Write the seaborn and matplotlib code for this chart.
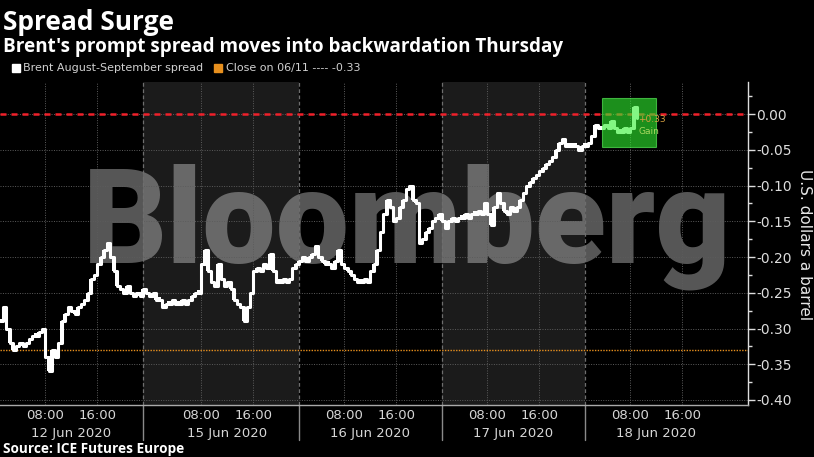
"""
Brent prompt spread, Bloomberg-style intraday chart
"""
import matplotlib
matplotlib.use('Agg')
import matplotlib.pyplot as plt
import matplotlib.transforms as mtransforms
from matplotlib.patches import Rectangle
import seaborn as sns
import numpy as np
import pandas as pd

sns.set_style('dark', {'axes.facecolor': 'black', 'figure.facecolor': 'black'})
plt.rcParams['font.family'] = ['DejaVu Sans']

# ============================================ #
# DATA: half-hourly closes, USD/bbl
# ============================================ #
day_labels = ['12 Jun 2020', '15 Jun 2020', '16 Jun 2020', '17 Jun 2020', '18 Jun 2020']
session_hours = [22, 24, 22, 22, 22]   # ICE session length (15 Jun opens Sunday 23:00)
open_clock = [1, -1, 1, 1, 1]          # clock hour of session open

spread_12jun = [-0.29, -0.27, -0.30, -0.32, -0.33, -0.325, -0.32, -0.325, -0.32, -0.315,
                -0.31, -0.31, -0.305, -0.30, -0.34, -0.36, -0.33, -0.34, -0.32, -0.29,
                -0.28, -0.27, -0.275, -0.28, -0.27, -0.265, -0.26, -0.25, -0.23, -0.225,
                -0.21, -0.20, -0.19, -0.18, -0.20, -0.22, -0.24, -0.245, -0.25, -0.24,
                -0.25, -0.255, -0.25, -0.255]
spread_15jun = [-0.245, -0.25, -0.255, -0.25, -0.26, -0.26, -0.27, -0.265, -0.265, -0.26,
                -0.265, -0.265, -0.26, -0.265, -0.26, -0.255, -0.25, -0.25, -0.21, -0.19,
                -0.22, -0.235, -0.24, -0.21, -0.23, -0.24, -0.235, -0.245, -0.26, -0.265,
                -0.27, -0.29, -0.27, -0.25, -0.22, -0.215, -0.22, -0.21, -0.215, -0.195,
                -0.22, -0.235, -0.235, -0.23, -0.235, -0.23, -0.215, -0.21]
spread_16jun = [-0.205, -0.20, -0.205, -0.20, -0.195, -0.185, -0.20, -0.205, -0.21, -0.21,
                -0.215, -0.205, -0.19, -0.21, -0.215, -0.22, -0.225, -0.23, -0.235, -0.235,
                -0.23, -0.235, -0.22, -0.21, -0.19, -0.165, -0.14, -0.12, -0.13, -0.15,
                -0.145, -0.13, -0.12, -0.105, -0.10, -0.12, -0.125, -0.18, -0.175, -0.165,
                -0.16, -0.15, -0.145, -0.14]
spread_17jun = [-0.15, -0.16, -0.15, -0.145, -0.15, -0.145, -0.145, -0.14, -0.145, -0.14,
                -0.14, -0.135, -0.14, -0.125, -0.14, -0.155, -0.13, -0.11, -0.125, -0.135,
                -0.14, -0.13, -0.135, -0.13, -0.12, -0.11, -0.10, -0.095, -0.09, -0.085,
                -0.08, -0.075, -0.07, -0.065, -0.06, -0.05, -0.04, -0.035, -0.045, -0.045,
                -0.045, -0.045, -0.05, -0.045]
spread_18jun = [-0.045, -0.04, -0.03, -0.015, -0.02, -0.02, -0.015, -0.02, -0.01, -0.02,
                -0.025, -0.025, -0.02, -0.025, -0.02, 0.01, -0.005]
day_series = [spread_12jun, spread_15jun, spread_16jun, spread_17jun, spread_18jun]

prev_close = -0.33          # close on 06/11
gain_label = '+0.33'
ytick_vals = [0.00, -0.05, -0.10, -0.15, -0.20, -0.25, -0.30, -0.35, -0.40]

# build a trading-time table (hours since 12 Jun 01:00, gaps removed)
frames, starts = [], []
t0 = 0.0
for lab, vals, hrs in zip(day_labels, day_series, session_hours):
    starts.append(t0)
    frames.append(pd.DataFrame({'t': t0 + 0.5 * np.arange(len(vals)),
                                'spread': vals, 'day': lab}))
    t0 += hrs
df = pd.concat(frames, ignore_index=True)
df['open'] = df['spread'].shift(1).fillna(df['spread'].iloc[0])
df['lo'] = df[['open', 'spread']].min(axis=1)
df['body'] = (df['spread'] - df['open']).abs().clip(lower=0.004)

# ============================================ #
# FIGURE
# ============================================ #
W, H = 814, 457
fig = plt.figure(figsize=(W / 100, H / 100), dpi=100)
ax = fig.add_axes([0, 1 - 405 / H, 748 / W, (405 - 82) / H])
ax.set_xlim(0, 115.1)
ax.set_ylim(-0.407, 0.045)

# alternating session shading
for i in [1, 3]:
    ax.axvspan(starts[i], starts[i] + session_hours[i], color='#1b1b1b', lw=0, zorder=0.5)

ax.text(62.6, -0.208, 'Bloomberg', fontsize=94, fontweight='black', family=['Roboto', 'DejaVu Sans'],
        color='white', alpha=0.34, ha='center', va='baseline', zorder=1)

# grid
for v in ytick_vals:
    ax.axhline(v, ls=(0, (1, 1.5)), color='#5c5c5c', lw=0.7, zorder=2)
major_t, major_lab, minor_t = [], [], []
for s, oc, hrs in zip(starts, open_clock, session_hours):
    for hh in [8, 16]:
        major_t.append(s + hh - oc)
        major_lab.append('%02d:00' % hh)
    for hh in [0, 4, 12, 20]:
        tt = s + hh - oc
        if s < tt < s + hrs:
            minor_t.append(tt)
for tt in major_t:
    ax.axvline(tt, ls=(0, (1, 1.5)), color='#5c5c5c', lw=0.7, zorder=2)
for b in starts[1:]:
    ax.axvline(b, ls=(0, (3, 2)), color='#6e6e6e', lw=0.9, zorder=2)

# reference lines
ax.axhline(0, color='#f0202a', lw=1.8, ls=(0, (2.4, 2.0)), zorder=3)
ax.axhline(prev_close, color='#e8901e', lw=1.0, ls=(0, (1, 1)), zorder=3)

# price path: step line plus candle bodies
sns.lineplot(data=df, x='t', y='spread', drawstyle='steps-post', color='white',
             lw=2.2, estimator=None, sort=False, ax=ax, zorder=4, legend=False)
ax.bar(df['t'], df['body'], bottom=df['lo'], width=0.5, color='white', lw=0, zorder=4)

# gain highlight box
ax.add_patch(Rectangle((92.6, -0.046), 8.3, 0.0684, facecolor='#30f030', alpha=0.6,
                       edgecolor='#60ff60', lw=0.8, zorder=5))
ax.text(98.2, -0.008, gain_label, fontsize=6.5, color='#d8a040', va='center', zorder=6)
ax.text(98.3, -0.0245, 'Gain', fontsize=6.5, color='#a8d860', va='center', zorder=6)

# axes styling
ax.grid(False)
for sp in ['top', 'left']:
    ax.spines[sp].set_visible(False)
ax.spines['right'].set_color('#dddddd')
ax.spines['right'].set_linewidth(1)
ax.spines['bottom'].set_color('#aaaaaa')
ax.spines['bottom'].set_linewidth(1)

ax.yaxis.tick_right()
ax.set_yticks(ytick_vals)
ax.set_yticklabels(['%.2f' % v for v in ytick_vals])
ax.set_yticks(np.arange(-0.375, 0.04, 0.05), minor=True)
ax.tick_params(axis='y', which='major', direction='out', length=5, width=1,
               colors='#dddddd', labelsize=10, pad=1)
ax.tick_params(axis='y', which='minor', direction='out', length=3, width=1, colors='#dddddd')

ax.set_xticks(major_t)
ax.set_xticklabels(major_lab)
ax.set_xticks(minor_t, minor=True)
ax.tick_params(axis='x', which='major', length=0, labelsize=9.5, colors='#d6d6d6', pad=3)
ax.tick_params(axis='x', which='minor', direction='out', length=2.5, width=1, colors='#aaaaaa')
ax.set(xlabel='', ylabel='')

trans = mtransforms.blended_transform_factory(ax.transData, ax.transAxes)
for s, oc, lab in zip(starts, open_clock, day_labels):
    ax.text(s + 12 - oc, -0.087, lab, transform=trans, ha='center', va='center',
            fontsize=9.5, color='#d6d6d6')
for b in starts[1:]:
    ax.plot([b, b], [0, -0.108], transform=trans, color='#8a8a8a', lw=1, clip_on=False)

# titles, legend, source
bold_fam = ['Open Sans', 'DejaVu Sans']
fig.text(3 / W, 1 - 30 / H, 'Spread Surge', fontsize=19, fontweight='bold',
         family=bold_fam, color='white', va='baseline')
fig.text(3 / W, 1 - 52 / H, "Brent's prompt spread moves into backwardation Thursday",
         fontsize=13.6, fontweight='bold', family=bold_fam, color='white', va='baseline')
fig.add_artist(Rectangle((12 / W, 1 - 72 / H), 8 / W, 8 / H, transform=fig.transFigure,
                         color='white'))
fig.text(23 / W, 1 - 68 / H, 'Brent August-September spread', fontsize=8,
         color='#d0d0d0', va='center')
fig.add_artist(Rectangle((214 / W, 1 - 72 / H), 8 / W, 8 / H, transform=fig.transFigure,
                         color='#e8901e'))
fig.text(226 / W, 1 - 68 / H, 'Close on 06/11 ---- %.2f' % prev_close, fontsize=8,
         color='#d0d0d0', va='center')
fig.text(804 / W, 1 - 245 / H, 'U.S. dollars a barrel', rotation=270, fontsize=11,
         color='#e6e6e6', ha='center', va='center')
fig.text(3 / W, 1 - 449 / H, 'Source: ICE Futures Europe', fontsize=9.8, fontweight='bold',
         family=bold_fam, color='white', va='center')

fig.savefig('out.png', dpi=100, facecolor='black')
